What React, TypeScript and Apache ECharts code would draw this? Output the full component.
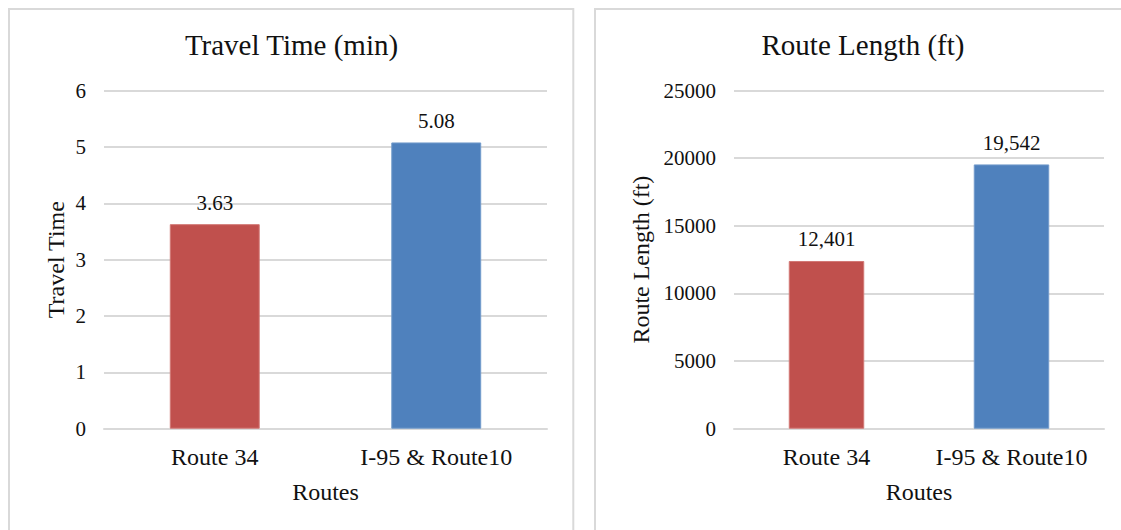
import React, { useEffect, useRef } from "react";
import * as echarts from "echarts";

// Route comparison data
const categories: string[] = ["Route 34", "I-95 & Route10"];
const travelTime: number[] = [3.63, 5.08];
const routeLength: number[] = [12401, 19542];
const barColors: string[] = ["#C0504D", "#4F81BD"];
const barEdgeColors: string[] = ["#D27875", "#739BCB"];

const travelTicks = { min: 0, max: 6, interval: 1 };
const lengthTicks = { min: 0, max: 25000, interval: 5000 };

const FONT = "'Liberation Serif', 'Times New Roman', serif";
const TEXT = "#111111";
const GRID_LINE = "#D9D9D9";

function barData(values: number[]) {
  return values.map((v, i) => ({
    value: v,
    itemStyle: { color: barColors[i], borderColor: barEdgeColors[i], borderWidth: 1 },
  }));
}

function xAxisFor(gridIndex: number) {
  return {
    type: "category" as const,
    gridIndex,
    data: categories,
    name: "Routes",
    nameLocation: "middle" as const,
    nameGap: 51,
    nameTextStyle: { fontFamily: FONT, fontSize: 24, color: TEXT },
    axisLine: { lineStyle: { color: GRID_LINE, width: 2 } },
    axisTick: { show: false },
    axisLabel: { interval: 0, margin: 16, fontFamily: FONT, fontSize: 24, color: TEXT },
  };
}

function yAxisFor(gridIndex: number, name: string, nameGap: number, ticks: { min: number; max: number; interval: number }) {
  return {
    type: "value" as const,
    gridIndex,
    min: ticks.min,
    max: ticks.max,
    interval: ticks.interval,
    name,
    nameLocation: "middle" as const,
    nameGap,
    nameTextStyle: { fontFamily: FONT, fontSize: 24, color: TEXT },
    axisLine: { show: false },
    axisTick: { show: false },
    axisLabel: {
      margin: 18,
      fontFamily: FONT,
      fontSize: 21,
      color: TEXT,
      formatter: (v: number) => String(v),
    },
    splitLine: { lineStyle: { color: GRID_LINE, width: 2 } },
  };
}

export default function App() {
  const ref = useRef<HTMLDivElement>(null);

  useEffect(() => {
    if (!ref.current) return;
    const chart = echarts.init(ref.current, undefined, { renderer: "svg" });

    chart.setOption({
      animation: false,
      backgroundColor: "#FFFFFF",
      graphic: [
        {
          type: "rect",
          shape: { x: 9, y: 9, width: 564.3, height: 560 },
          style: { fill: "none", stroke: GRID_LINE, lineWidth: 2 },
          silent: true,
        },
        {
          type: "rect",
          shape: { x: 595, y: 9, width: 560, height: 560 },
          style: { fill: "none", stroke: GRID_LINE, lineWidth: 2 },
          silent: true,
        },
        {
          type: "text",
          x: 291.5,
          y: 30.5,
          style: {
            text: "Travel Time (min)",
            align: "center",
            verticalAlign: "top",
            fontFamily: FONT,
            fontSize: 29,
            fill: TEXT,
          },
        },
        {
          type: "text",
          x: 863,
          y: 30.5,
          style: {
            text: "Route Length (ft)",
            align: "center",
            verticalAlign: "top",
            fontFamily: FONT,
            fontSize: 29,
            fill: TEXT,
          },
        },
      ],
      grid: [
        { left: 104, right: 574, top: 90.6, bottom: 101.3 },
        { left: 734, right: 17, top: 90.6, bottom: 101.3 },
      ],
      xAxis: [xAxisFor(0), xAxisFor(1)],
      yAxis: [
        yAxisFor(0, "Travel Time", 36, travelTicks),
        yAxisFor(1, "Route Length (ft)", 81, lengthTicks),
      ],
      series: [
        {
          type: "bar",
          xAxisIndex: 0,
          yAxisIndex: 0,
          barWidth: "40.6%",
          data: barData(travelTime),
          label: {
            show: true,
            position: "top",
            distance: 11,
            fontFamily: FONT,
            fontSize: 21,
            color: TEXT,
            formatter: (p: any) => Number(p.value).toFixed(2),
          },
        },
        {
          type: "bar",
          xAxisIndex: 1,
          yAxisIndex: 1,
          barWidth: "40.8%",
          data: barData(routeLength),
          label: {
            show: true,
            position: "top",
            distance: 11,
            fontFamily: FONT,
            fontSize: 21,
            color: TEXT,
            formatter: (p: any) => Number(p.value).toLocaleString("en-US"),
          },
        },
      ],
    });

    return () => chart.dispose();
  }, []);

  return (
    <div
      ref={ref}
      style={{ position: "absolute", left: 0, top: 0, width: 1121, height: 530 }}
    />
  );
}
